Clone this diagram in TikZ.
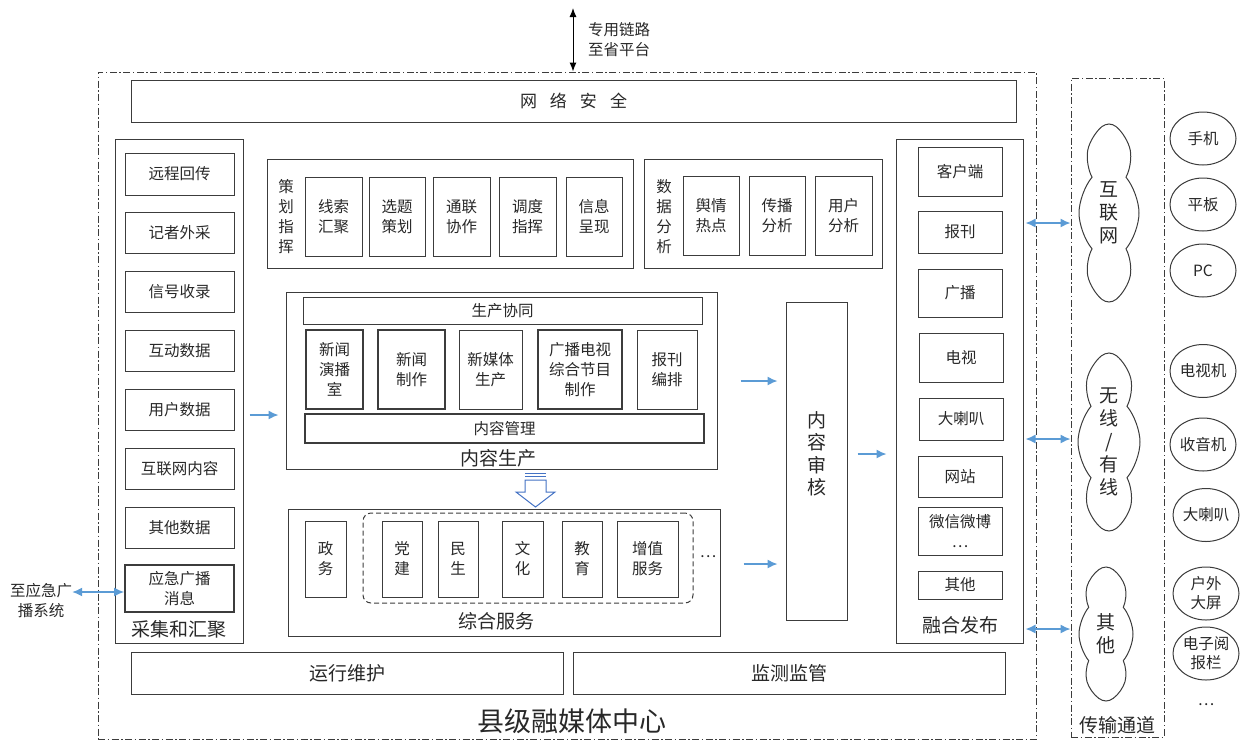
\documentclass[tikz,border=0pt]{standalone}
\usepackage{fontspec}
\setmainfont{Noto Sans CJK SC}
\usetikzlibrary{arrows.meta,shapes.geometric,shapes.symbols}
\definecolor{ln}{RGB}{60,60,60}
\definecolor{tx}{RGB}{40,40,40}
\definecolor{ab}{RGB}{91,155,213}
\definecolor{hb}{RGB}{68,114,196}
\newcommand\bx[7][]{%
 \pgfmathsetmacro\bxcx{(#3+#5)/2}\pgfmathsetmacro\bxcy{(#4+#6)/2}%
 \pgfmathsetmacro\bxw{#5-#3}\pgfmathsetmacro\bxh{#6-#4}%
 \node[box,#1,minimum width=\bxw pt,minimum height=\bxh pt] (#2) at (\bxcx,\bxcy) {#7};}
\begin{document}
\begin{tikzpicture}[x=1pt,y=-1pt,
 box/.style={draw=ln,line width=1pt,inner sep=0pt,align=center,text=tx,font=\fontsize{15.5}{20}\selectfont},
 thk/.style={line width=1.8pt},
 lbl/.style={inner sep=0pt,align=center,text=tx,font=\fontsize{15.5}{20}\selectfont},
 plabel/.style={inner sep=0pt,text=tx,font=\fontsize{19}{22}\selectfont},
 dashdot/.style={draw=ln,line width=1pt,dash pattern=on 7pt off 2.5pt on 1.5pt off 2.5pt},
 barrow/.style={draw=ab,line width=1.4pt,-{Latex[length=10pt,width=9pt]}},
 dbarrow/.style={draw=ab,line width=1.4pt,{Latex[length=10pt,width=9pt]}-{Latex[length=10pt,width=9pt]}},
 dev/.style={draw=ln,line width=1pt,ellipse,inner sep=0pt,minimum width=66pt,minimum height=53pt,align=center,text=tx,font=\fontsize{15.5}{19}\selectfont},
 cld/.style={draw=ln,line width=1pt,cloud,cloud puffs=8,cloud puff arc=80,cloud ignores aspect,inner sep=0pt,align=center,text=tx,font=\fontsize{19}{23}\selectfont}]
\useasboundingbox (0,0) rectangle (1243,740);
% frames
\bx[dashdot]{outer}{98}{72}{1036}{739}{}
\bx[dashdot]{chan}{1071}{78}{1164}{737}{}
\bx[font=\fontsize{17}{20}\selectfont]{sec}{131}{80}{1016}{122}{网\hspace{13pt}络\hspace{13pt}安\hspace{13pt}全}
% left panel
\bx{caiji}{115}{139}{243}{643}{}
\node[plabel] (caijiL) at (179,629) {采集和汇聚};
\bx{c1}{125}{153}{234}{195}{远程回传}
\bx{c2}{125}{212}{234}{253}{记者外采}
\bx{c3}{125}{271}{234}{312}{信号收录}
\bx{c4}{125}{330}{234}{371}{互动数据}
\bx{c5}{125}{389}{234}{430}{用户数据}
\bx{c6}{125}{448}{234}{489}{互联网内容}
\bx{c7}{125}{507}{234}{548}{其他数据}
\bx[thk]{c8}{125}{565}{234}{612}{应急广播\\消息}
% plan panel
\bx{plan}{267}{159}{633}{268}{}
\node[lbl] (planL) at (286,217) {策\\划\\指\\挥};
\bx{p1}{305}{177}{362}{256}{线索\\汇聚}
\bx{p2}{369}{177}{425}{256}{选题\\策划}
\bx{p3}{433}{177}{490}{256}{通联\\协作}
\bx{p4}{499}{177}{556}{256}{调度\\指挥}
\bx{p5}{566}{177}{622}{256}{信息\\呈现}
% data panel
\bx{data}{644}{159}{882}{268}{}
\node[lbl] (dataL) at (664,217) {数\\据\\分\\析};
\bx{d1}{683}{176}{739}{255}{舆情\\热点}
\bx{d2}{749}{176}{805}{255}{传播\\分析}
\bx{d3}{815}{176}{872}{255}{用户\\分析}
% production
\bx{prod}{286}{292}{717}{469}{}
\bx{xt}{303}{297}{702}{324}{生产协同}
\bx[thk]{n1}{306}{330}{363}{409}{新闻\\演播\\室}
\bx[thk]{n2}{378}{330}{445}{409}{新闻\\制作}
\bx{n3}{459}{330}{522}{409}{新媒体\\生产}
\bx[thk]{n4}{538}{330}{622}{409}{广播电视\\综合节目\\制作}
\bx{n5}{637}{330}{697}{409}{报刊\\编排}
\bx[thk]{mgmt}{305}{414}{704}{443}{内容管理}
\node[plabel] (prodL) at (498,458) {内容生产};
% hollow arrow
\draw[hb,line width=1pt,fill=white] (525,480) -- (546,480) -- (546,492) -- (555,492) -- (535.5,507) -- (516,492) -- (525,492) -- cycle;
\draw[hb,line width=1pt] (525,473) -- (546,473) (525,476.5) -- (546,476.5);
% services
\bx{zh}{288}{509}{720}{636}{}
\bx[dash pattern=on 5pt off 3pt,rounded corners=8pt]{grp}{363}{513}{693}{603}{}
\bx{z1}{305}{521}{346}{597}{政\\务}
\bx{z2}{382}{521}{422}{597}{党\\建}
\bx{z3}{438}{521}{478}{597}{民\\生}
\bx{z4}{502}{521}{543}{597}{文\\化}
\bx{z5}{562}{521}{602}{597}{教\\育}
\bx{z6}{617}{521}{678}{597}{增值\\服务}
\node[lbl] (zdots) at (708,557) {…};
\node[plabel] (zhL) at (496,621) {综合服务};
% review
\bx{shen}{786}{302}{847}{620}{}
\node[lbl,font=\fontsize{19}{22.5}\selectfont] (shenL) at (817,454) {内\\容\\审\\核};
% publish
\bx{fabu}{896}{139}{1023}{643}{}
\bx{f1}{918}{147}{1002}{196}{客户端}
\bx{f2}{918}{211}{1002}{253}{报刊}
\bx{f3}{918}{269}{1002}{317}{广播}
\bx{f4}{919}{333}{1003}{382}{电视}
\bx{f5}{919}{398}{1003}{440}{大喇叭}
\bx{f6}{918}{456}{1002}{497}{网站}
\bx{f7}{918}{507}{1002}{555}{微信微博\\…}
\bx{f8}{918}{571}{1002}{599}{其他}
\node[plabel] (fabuL) at (960,625) {融合发布};
% bottom
\bx[font=\fontsize{19}{22}\selectfont]{yw}{131}{652}{563}{694}{运行维护}
\bx[font=\fontsize{19}{22}\selectfont]{jc}{573}{652}{1005}{694}{监测监管}
\node[inner sep=0pt,text=tx,font=\fontsize{27}{30}\selectfont] (title) at (572,721) {县级融媒体中心};
\node[plabel] (chanL) at (1117,725) {传输通道};
% clouds
\node[cld,minimum width=60pt,minimum height=178pt] (net) at (1109,213) {互\\联\\网};
\node[cld,minimum width=62pt,minimum height=178pt] (wire) at (1109,442) {无\\线\\/\\有\\线};
\node[cld,minimum width=54pt,minimum height=134pt] (oth) at (1106,634) {其\\他};
% devices
\node[dev] (e1) at (1203,138.5) {手机};
\node[dev] (e2) at (1203,204.5) {平板};
\node[dev] (e3) at (1203,270.5) {PC};
\node[dev] (e4) at (1203,371) {电视机};
\node[dev] (e5) at (1203,444.5) {收音机};
\node[dev] (e6) at (1206,515) {大喇叭};
\node[dev] (e7) at (1206,593.5) {户外\\大屏};
\node[dev] (e8) at (1206,653.5) {电子阅\\报栏};
\node[lbl] (edots) at (1206,705) {…};
% top link
\coordinate (topend) at (573,8);
\draw[black,line width=1pt,{Latex[length=9pt,width=7pt]}-{Latex[length=9pt,width=7pt]}] (topend) -- (topend |- outer.north);
\node[lbl,align=left] (toptext) at (619,40) {专用链路\\至省平台};
% emergency
\node[lbl] (emsys) at (41,601) {至应急广\\播系统};
\draw[dbarrow] (emsys.east |- 0,592) -- (c8.west |- 0,592);
% flow arrows
\draw[barrow,shorten <=6pt,shorten >=7pt] (caiji.east |- 0,415) -- (prod.west |- 0,415);
\draw[barrow,shorten <=23pt,shorten >=8pt] (prod.east |- 0,381) -- (shen.west |- 0,381);
\draw[barrow,shorten <=23pt,shorten >=8pt] (zh.east |- 0,564) -- (shen.west |- 0,564);
\draw[barrow,shorten <=10pt,shorten >=9pt] (shen.east |- 0,454) -- (fabu.west |- 0,454);
\draw[dbarrow,shorten <=2pt] (fabu.east |- 0,223) -- (chan.west |- 0,223);
\draw[dbarrow,shorten <=2pt] (fabu.east |- 0,439) -- (chan.west |- 0,439);
\draw[dbarrow,shorten <=2pt] (fabu.east |- 0,629) -- (chan.west |- 0,629);
\end{tikzpicture}
\end{document}
